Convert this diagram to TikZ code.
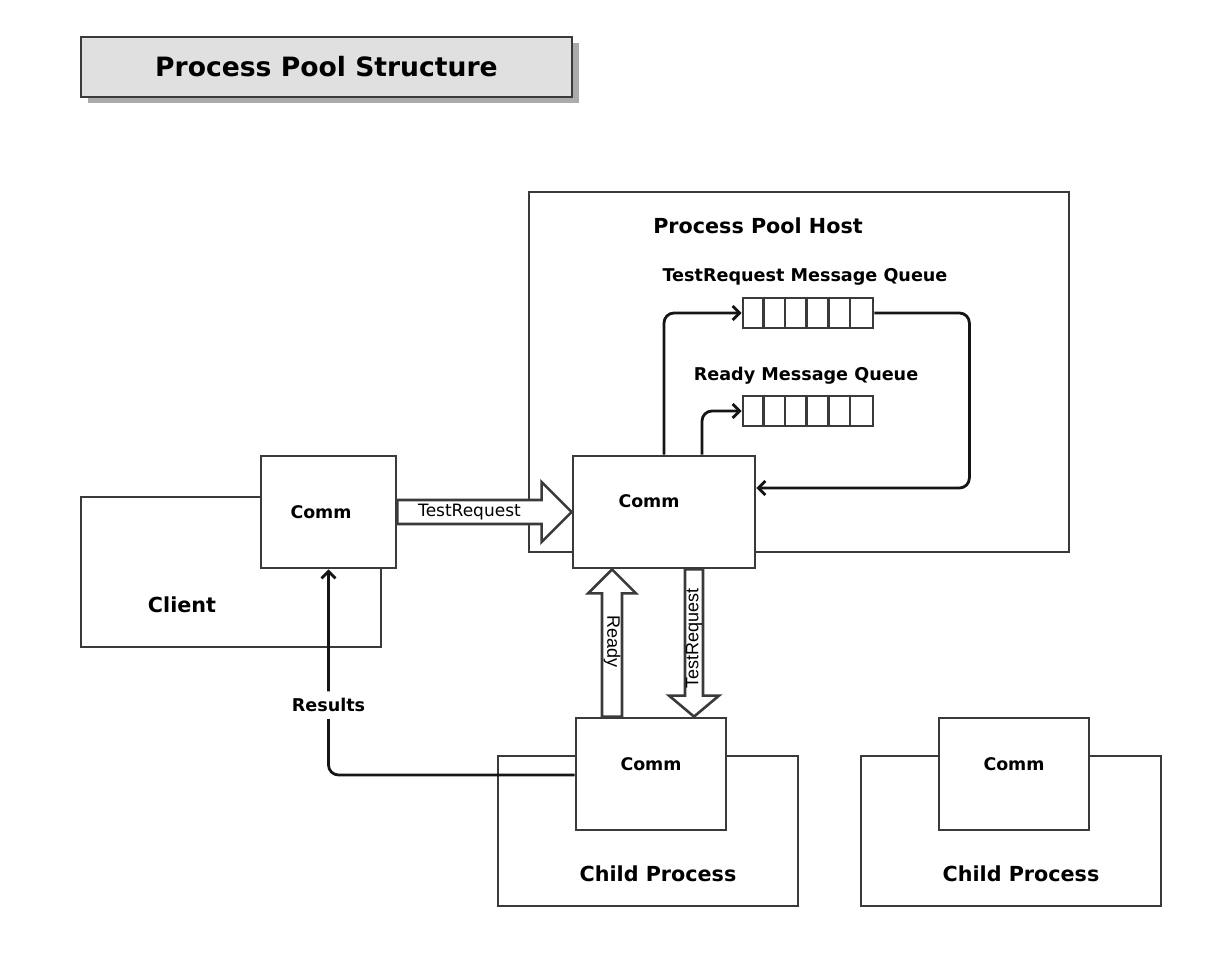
\documentclass[tikz,border=0pt]{standalone}
\usepackage{fontspec}
\setmainfont{DejaVu Sans}
\newfontfamily\arialfont{Liberation Sans}
\usetikzlibrary{calc, arrows.meta, shadows}

\definecolor{boxgray}{HTML}{3A3A3A}
\definecolor{linegray}{HTML}{151515}
\definecolor{titlegray}{HTML}{E0E0E0}
\definecolor{shadowgray}{HTML}{ABABAB}

\tikzset{
  box/.style={draw=boxgray, line width=2.8pt, fill=white, inner sep=0pt},
  conn/.style={draw=linegray, line width=2.8pt, rounded corners=10pt,
    -{Straight Barb[length=7pt,width=14pt]}},
  bigarrow/.style={draw=boxgray, line width=2.6pt, fill=white, line join=miter},
  biglbl/.style={font=\fontsize{20.7}{24}\selectfont\bfseries, inner sep=0pt},
  lbl/.style={font=\fontsize{17.6}{20}\selectfont\bfseries, inner sep=1pt},
  commlbl/.style={font=\fontsize{17.4}{20}\selectfont\bfseries, inner sep=0pt},
  arrowlbl/.style={font=\arialfont\fontsize{18}{20}\selectfont, inner sep=0pt},
}

\begin{document}
\begin{tikzpicture}[x=1pt, y=-1pt]
  \useasboundingbox (0,0) rectangle (1226,955);

  % title
  \node[box, fill=titlegray, minimum width=491pt, minimum height=60pt,
    drop shadow={shadow xshift=7pt, shadow yshift=-6pt, fill=shadowgray, opacity=1},
    font=\fontsize{26.6}{30}\selectfont\bfseries] (title) at (326.5,67) {Process Pool Structure};

  % outer boxes
  \node[box, minimum width=540pt, minimum height=360pt] (host) at (799,372) {};
  \node[box, minimum width=300pt, minimum height=150pt] (client) at (231,572) {};
  \node[box, minimum width=300pt, minimum height=150pt] (child1) at (648,831) {};
  \node[box, minimum width=300pt, minimum height=150pt] (child2) at (1011,831) {};

  % comm boxes
  \node[box, minimum width=135pt, minimum height=112pt] (ccomm) at (328.5,512) {};
  \node[box, minimum width=182pt, minimum height=112pt] (hcomm) at (664,512) {};
  \node[box, minimum width=150pt, minimum height=112pt] (kcomm1) at (651,774) {};
  \node[box, minimum width=150pt, minimum height=112pt] (kcomm2) at (1014,774) {};

  % queues
  \node[box, minimum width=130pt, minimum height=30pt] (trq) at (808,313) {};
  \node[box, minimum width=130pt, minimum height=30pt] (rdq) at (808,411) {};
  \foreach \q in {trq, rdq}
    \foreach \i in {1,...,5}
      \draw[boxgray, line width=2.8pt] ($(\q.north west)+(\i*21.667,0)$) -- ($(\q.south west)+(\i*21.667,0)$);

  % labels
  \node[biglbl] (hostlbl) at (758,226) {Process Pool Host};
  \node[lbl] (trqlbl) at (805,277) {TestRequest Message Queue};
  \node[lbl] (rdqlbl) at (806,376) {Ready Message Queue};
  \node[biglbl] (clientlbl) at (182,605) {Client};
  \node[biglbl] (child1lbl) at (658,874) {Child Process};
  \node[biglbl] (child2lbl) at (1021,874) {Child Process};
  \node[commlbl] (ccommlbl) at (321,512) {Comm};
  \node[commlbl] (hcommlbl) at (649,501) {Comm};
  \node[commlbl] (kcomm1lbl) at (651,764) {Comm};
  \node[commlbl] (kcomm2lbl) at (1014,764) {Comm};

  % queue connectors
  \draw[conn] (hcomm.north) |- (trq.west);
  \draw[conn] ($(hcomm.north)+(38,0)$) |- (rdq.west);
  \draw[conn] (trq.east) -- ++(95,0) |- ($(hcomm.east)+(0,-24)$);

  % results
  \draw[conn] ($(kcomm1.west)+(0,1)$) -| (ccomm.south)
    node[lbl, pos=0.67, fill=white, inner xsep=3pt, inner ysep=7pt] (reslbl) {Results};

  % testrequest client -> host
  \draw[bigarrow] ($(ccomm.east)+(0,-12)$) -- ($(hcomm.west)+(-30,-12)$)
    -- ($(hcomm.west)+(-30,-30)$) -- (hcomm.west) -- ($(hcomm.west)+(-30,30)$)
    -- ($(hcomm.west)+(-30,12)$) -- ($(ccomm.east)+(0,12)$) -- cycle;
  \node[font=\fontsize{17}{20}\selectfont, inner sep=0pt] (trhlbl) at ($(ccomm.east)!0.5!(hcomm.west)+(-15,0)$) {TestRequest};

  % ready child -> host
  \coordinate (rdbot) at ($(kcomm1.north)+(-39,0)$);
  \coordinate (rdtop) at (rdbot |- hcomm.south);
  \draw[bigarrow] ($(rdbot)+(-10,0)$) -- ($(rdtop)+(-10,24)$) -- ($(rdtop)+(-24,24)$)
    -- (rdtop) -- ($(rdtop)+(24,24)$) -- ($(rdtop)+(10,24)$) -- ($(rdbot)+(10,0)$) -- cycle;
  \node[arrowlbl, rotate=-90] (rdlbl) at ($(rdbot)+(0,-75)$) {Ready};

  % testrequest host -> child
  \coordinate (trtop) at ($(hcomm.south)+(30,0)$);
  \coordinate (trbot) at (trtop |- kcomm1.north);
  \draw[bigarrow] ($(trtop)+(-9,0)$) -- ($(trbot)+(-9,-21)$) -- ($(trbot)+(-25,-21)$)
    -- (trbot) -- ($(trbot)+(25,-21)$) -- ($(trbot)+(9,-21)$) -- ($(trtop)+(9,0)$) -- cycle;
  \node[arrowlbl, rotate=90] (trvlbl) at ($(trtop)+(0,69)$) {TestRequest};
\end{tikzpicture}
\end{document}
